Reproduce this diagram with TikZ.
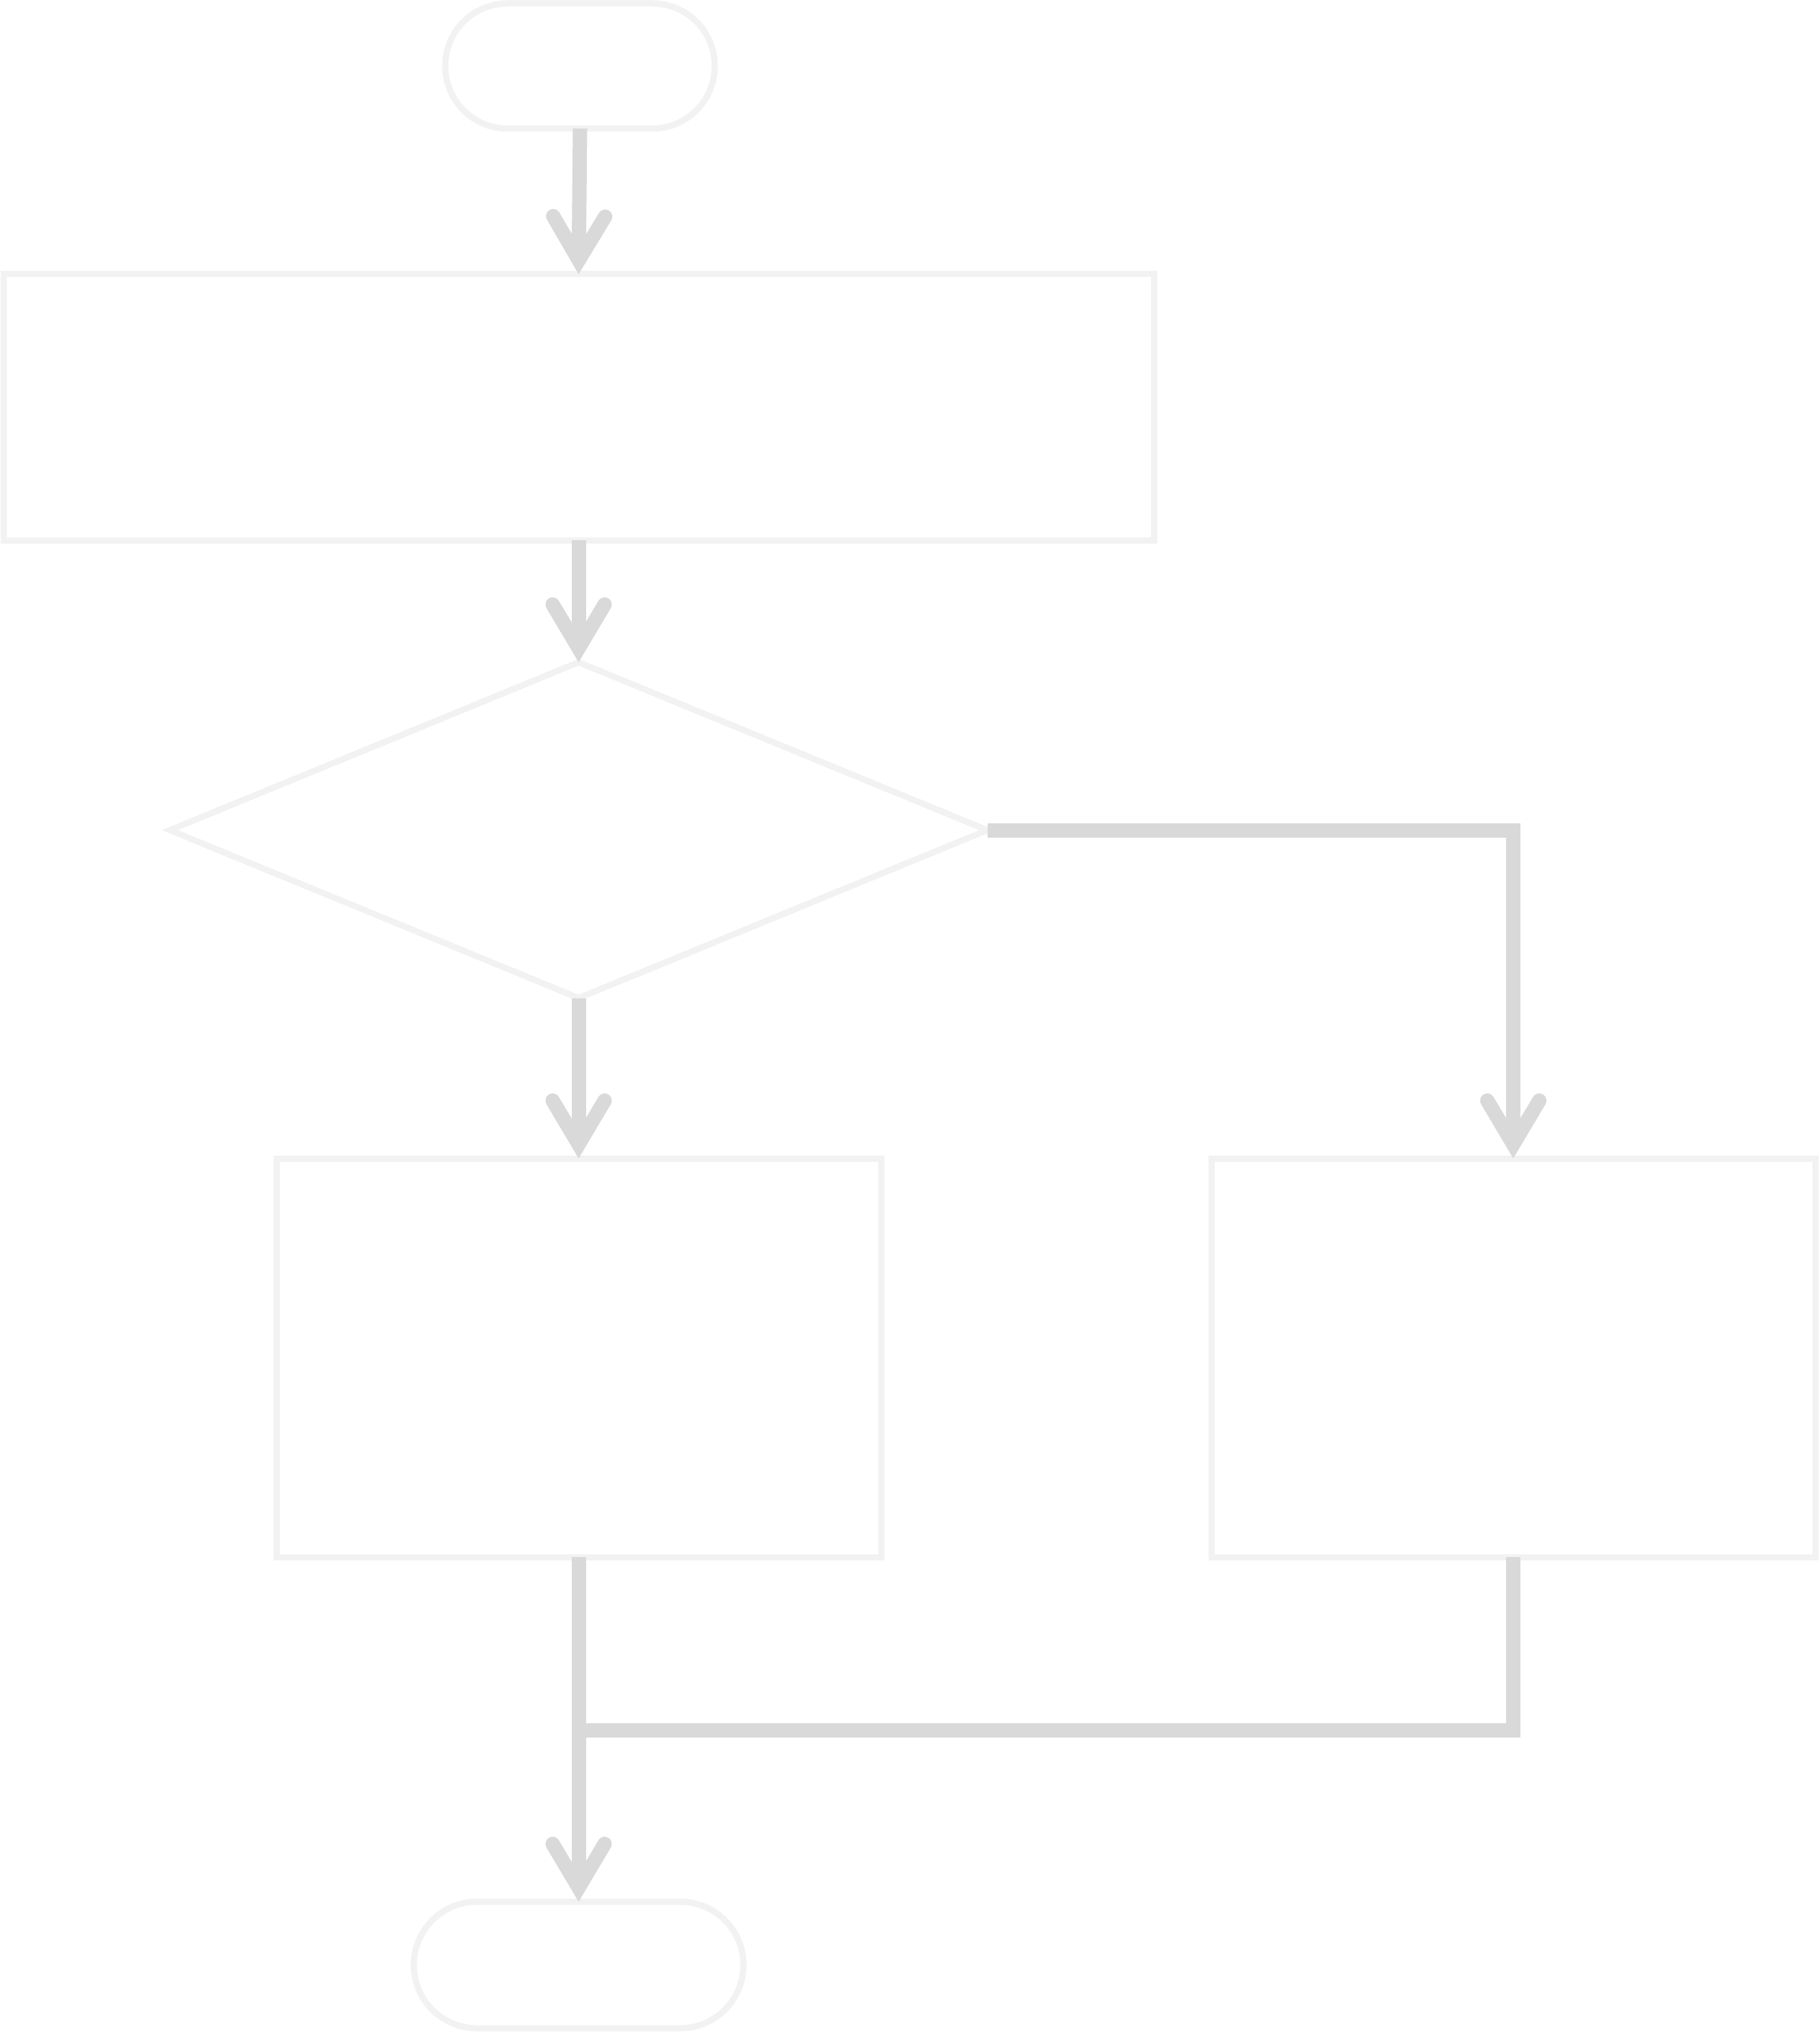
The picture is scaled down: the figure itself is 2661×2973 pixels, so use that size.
\documentclass[tikz,border=0pt]{standalone}
\usetikzlibrary{arrows.meta,shapes.geometric}
\definecolor{boxline}{HTML}{F2F2F2}
\definecolor{flowline}{HTML}{D9D9D9}
\begin{document}
\begin{tikzpicture}[x=0.25pt, y=-0.25pt,
    block/.style={draw=boxline, fill=white, line width=2.25pt, inner sep=0pt, outer sep=0pt},
    term/.style={block, rounded corners=#1},
    decide/.style={block, diamond},
    flow/.style={draw=flowline, line width=5.25pt},
    go/.style={flow, -{Straight Barb[length=16pt, width=19pt, line cap=round, line join=miter]}}]
    \fill[white] (0,0) rectangle (2661,2973);
    % shapes
    \node[term=22.8pt, minimum width=98.5pt, minimum height=45.75pt] (start) at (848,96.5) {};
    \node[block, minimum width=420.5pt, minimum height=97.25pt] (task) at (846,595.5) {};
    \node[decide, minimum width=298.75pt, minimum height=122.75pt] (check) at (846,1214) {};
    \node[block, minimum width=221pt, minimum height=145.75pt] (yes) at (846,1985.5) {};
    \node[block, minimum width=220.75pt, minimum height=145.75pt] (no) at (2212.5,1985.5) {};
    \node[term=23.1pt, minimum width=120.5pt, minimum height=46.25pt] (stop) at (846,2873.5) {};
    \coordinate (join) at (846,2530);
    % connectors
    \draw[go] (start.south) -- (task.north);
    \draw[go] (task) -- (check);
    \draw[go] (check) -- (yes);
    \draw[go] (check.east) -| (no.north);
    \draw[go] (yes) -- (stop);
    \draw[flow] (no.south) |- (join);
\end{tikzpicture}
\end{document}
